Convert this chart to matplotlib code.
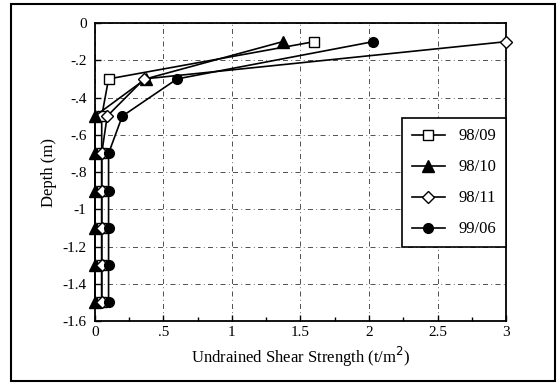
import numpy as np
import matplotlib.pyplot as plt
from matplotlib.patches import Rectangle

plt.rcParams['font.family'] = ['Liberation Serif', 'DejaVu Serif']

depth = [-0.1, -0.3, -0.5, -0.7, -0.9, -1.1, -1.3, -1.5]
s_9809 = [1.60, 0.10, 0.05, 0.05, 0.05, 0.05, 0.05, 0.05]
s_9810 = [1.37, 0.37, 0.00, 0.00, 0.00, 0.00, 0.00, 0.00]
s_9811 = [3.00, 0.36, 0.09, 0.05, 0.05, 0.05, 0.05, 0.05]
s_9906 = [2.03, 0.60, 0.20, 0.10, 0.10, 0.10, 0.10, 0.10]
labels = ['98/09', '98/10', '98/11', '99/06']

xticks = [0, 0.5, 1, 1.5, 2, 2.5, 3]
xticklabels = ['0', '.5', '1', '1.5', '2', '2.5', '3']
yticks = [0, -0.2, -0.4, -0.6, -0.8, -1, -1.2, -1.4, -1.6]
yticklabels = ['0', '-.2', '-.4', '-.6', '-.8', '-1', '-1.2', '-1.4', '-1.6']

fig = plt.figure(figsize=(5.58, 3.84), dpi=100)
ax = fig.add_axes([0.170, 0.164, 0.737, 0.776])

# outer frame around whole figure
fig.patches.append(Rectangle((0.02, 0.008), 0.975, 0.982, transform=fig.transFigure,
                             fill=False, lw=1.5, ec='black'))

styles = [
    dict(marker='s', mfc='white', mec='black', ms=7),
    dict(marker='^', mfc='black', mec='black', ms=8),
    dict(marker='D', mfc='white', mec='black', ms=6),
    dict(marker='o', mfc='black', mec='black', ms=7),
]
for s, lab, st in zip([s_9809, s_9810, s_9811, s_9906], labels, styles):
    ax.plot(s, depth, color='black', lw=1.2, label=lab, clip_on=False, zorder=3, **st)

ax.set_xlim(0, 3)
ax.set_ylim(-1.6, 0)
ax.set_xticks(xticks)
ax.set_xticklabels(xticklabels)
ax.set_xticks(np.arange(0.25, 3, 0.5), minor=True)
ax.set_yticks(yticks)
ax.set_yticklabels(yticklabels)
ax.tick_params(direction='in', length=4, width=1, labelsize=11)
ax.tick_params(which='minor', direction='in', length=3, width=1)
ax.tick_params(axis='y', pad=6)

ax.grid(True, which='major', color='black', lw=0.6, ls=(0, (6, 4, 1, 4)), alpha=0.8)
for sp in ax.spines.values():
    sp.set_linewidth(1.3)

ax.set_xlabel('Undrained Shear Strength (t/m$^2$)', fontsize=12, labelpad=4)
ax.set_ylabel('Depth (m)', fontsize=12, labelpad=4)

leg = ax.legend(loc='upper right', bbox_to_anchor=(1.0, 0.68), fontsize=12,
                frameon=True, fancybox=False, edgecolor='black', framealpha=1,
                borderpad=0.6, labelspacing=0.9, handlelength=2.0, borderaxespad=0)
leg.get_frame().set_linewidth(1.2)

fig.savefig('out.png', dpi=100)
